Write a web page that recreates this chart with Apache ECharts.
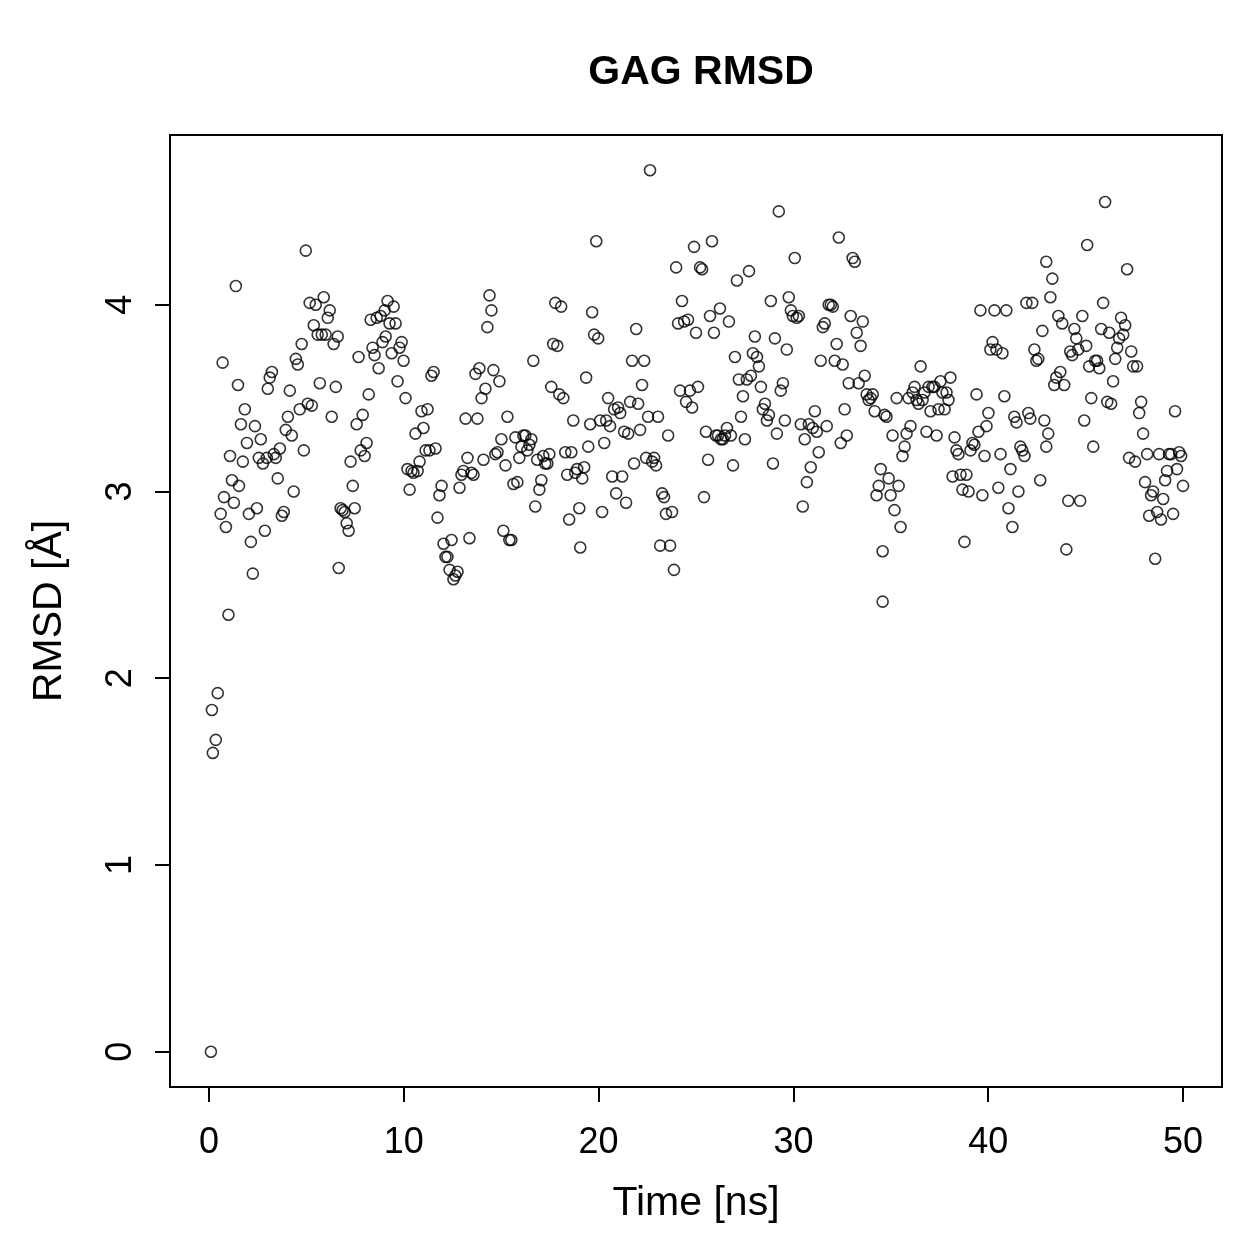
<!DOCTYPE html>
<html>
<head>
<meta charset="utf-8">
<title>GAG RMSD</title>
<script src="https://cdn.jsdelivr.net/npm/echarts@6/dist/echarts.min.js"></script>
<style>
  html, body { margin: 0; padding: 0; background: #fff; }
  #chart { width: 1259px; height: 1259px; }
</style>
</head>
<body>
<div id="chart"></div>
<script>
// time in ns
var time = [
  0.1, 0.2, 0.15, 0.35, 0.45, 1.0, 0.6, 0.7, 0.77, 0.87, 1.08, 1.18, 1.28, 1.38, 1.49, 1.54, 1.64, 1.74, 1.84, 1.95,
  2.05, 2.15, 2.25, 2.36, 2.46, 2.56, 2.66, 2.77, 2.87, 2.97, 3.02, 3.12, 3.23, 3.33, 3.43, 3.53, 3.64, 3.74, 3.84, 3.94,
  4.05, 4.15, 4.25, 4.35, 4.46, 4.56, 4.66, 4.76, 4.87, 4.97, 5.07, 5.17, 5.28, 5.38, 5.48, 5.58, 5.69, 5.79, 5.89, 5.99,
  6.10, 6.20, 6.30, 6.40, 6.51, 6.61, 6.66, 6.76, 6.86, 6.97, 7.07, 7.17, 7.27, 7.38, 7.48, 7.58, 7.68, 7.79, 7.89, 7.99,
  8.09, 8.20, 8.30, 8.40, 8.50, 8.61, 8.71, 8.81, 8.91, 9.02, 9.07, 9.17, 9.27, 9.38, 9.48, 9.58, 9.68, 9.78, 9.89, 9.99,
  10.09, 10.19, 10.30, 10.40, 10.50, 10.60, 10.71, 10.81, 10.91, 11.01, 11.12, 11.22, 11.32, 11.42, 11.53, 11.63, 11.73, 11.83, 11.94, 12.04,
  12.14, 12.24, 12.35, 12.45, 12.55, 12.65, 12.76, 12.86, 12.96, 13.06, 13.17, 13.27, 13.37, 13.47, 13.58, 13.68, 13.78, 13.88, 13.99, 14.09,
  14.19, 14.29, 14.40, 14.50, 14.60, 14.70, 14.81, 14.91, 15.01, 15.11, 15.22, 15.32, 15.42, 15.52, 15.63, 15.73, 15.83, 15.93, 16.04, 16.14,
  16.24, 16.34, 16.45, 16.55, 16.65, 16.75, 16.85, 16.96, 17.06, 17.16, 17.26, 17.37, 17.47, 17.57, 17.67, 17.78, 17.88, 17.98, 18.08, 18.19,
  18.29, 18.39, 18.49, 18.60, 18.70, 18.80, 18.90, 19.01, 19.06, 19.16, 19.26, 19.36, 19.47, 19.57, 19.67, 19.77, 19.88, 19.98, 20.08, 20.18,
  20.29, 20.39, 20.49, 20.59, 20.70, 20.80, 20.90, 21.00, 21.11, 21.21, 21.31, 21.41, 21.52, 21.62, 21.72, 21.82, 21.93, 22.03, 22.13, 22.23,
  22.34, 22.44, 22.54, 22.64, 22.75, 22.85, 22.95, 23.05, 23.16, 23.26, 23.36, 23.46, 23.57, 23.67, 23.77, 23.87, 23.98, 24.08, 24.18, 24.28,
  24.39, 24.49, 24.59, 24.69, 24.80, 24.90, 25.00, 25.10, 25.21, 25.31, 25.41, 25.51, 25.62, 25.72, 25.82, 25.92, 26.02, 26.13, 26.23, 26.28,
  26.38, 26.49, 26.59, 26.69, 26.79, 26.90, 27.00, 27.10, 27.20, 27.31, 27.41, 27.51, 27.61, 27.72, 27.82, 27.92, 28.02, 28.13, 28.23, 28.33,
  28.43, 28.54, 28.64, 28.74, 28.84, 28.95, 29.05, 29.15, 29.25, 29.35, 29.46, 29.56, 29.66, 29.76, 29.87, 29.97, 30.07, 30.17, 30.28, 30.38,
  30.48, 30.58, 30.69, 30.79, 30.89, 30.99, 31.10, 31.20, 31.30, 31.40, 31.51, 31.61, 31.71, 31.81, 31.92, 32.02, 32.12, 32.22, 32.33, 32.43,
  32.53, 32.63, 32.74, 32.84, 32.94, 33.04, 33.15, 33.25, 33.35, 33.45, 33.56, 33.66, 33.76, 33.86, 33.97, 34.07, 34.17, 34.27, 34.38, 34.48,
  34.58, 34.58, 34.68, 34.78, 34.89, 34.99, 35.09, 35.19, 35.30, 35.40, 35.50, 35.60, 35.71, 35.81, 35.91, 36.01, 36.12, 36.22, 36.32, 36.42,
  36.53, 36.63, 36.73, 36.83, 36.94, 37.04, 37.14, 37.24, 37.35, 37.45, 37.55, 37.65, 37.76, 37.86, 37.96, 38.06, 38.17, 38.27, 38.37, 38.47,
  38.58, 38.68, 38.78, 38.88, 38.99, 39.09, 39.19, 39.29, 39.40, 39.50, 39.60, 39.70, 39.81, 39.91, 40.01, 40.11, 40.22, 40.32, 40.42, 40.52,
  40.63, 40.73, 40.83, 40.93, 41.04, 41.14, 41.24, 41.34, 41.45, 41.55, 41.65, 41.75, 41.86, 41.96, 42.06, 42.16, 42.26, 42.37, 42.47, 42.57,
  42.67, 42.78, 42.88, 42.98, 42.98, 43.08, 43.19, 43.29, 43.39, 43.49, 43.60, 43.70, 43.80, 43.90, 44.01, 44.11, 44.21, 44.31, 44.42, 44.52,
  44.62, 44.72, 44.83, 44.93, 45.03, 45.08, 45.18, 45.29, 45.39, 45.49, 45.59, 45.70, 45.80, 45.90, 46.00, 46.11, 46.21, 46.31, 46.41, 46.52,
  46.62, 46.72, 46.82, 46.93, 47.03, 47.13, 47.23, 47.34, 47.44, 47.54, 47.64, 47.75, 47.85, 47.95, 48.05, 48.16, 48.26, 48.36, 48.46, 48.57,
  48.67, 48.77, 48.87, 48.98, 49.08, 49.18, 49.28, 49.39, 49.49, 49.59, 49.69, 49.80, 49.90, 50.00
];

// RMSD in angstrom
var rmsd = [
  0.00, 1.60, 1.83, 1.67, 1.92, 2.34, 2.88, 3.69, 2.97, 2.81, 3.19, 3.06, 2.94, 4.10, 3.57, 3.03, 3.36, 3.16, 3.44, 3.26,
  2.88, 2.73, 2.56, 3.35, 2.91, 3.18, 3.28, 3.15, 2.79, 3.18, 3.55, 3.61, 3.64, 3.20, 3.18, 3.07, 3.23, 2.87, 2.89, 3.33,
  3.40, 3.54, 3.30, 3.00, 3.71, 3.68, 3.44, 3.79, 3.22, 4.29, 3.47, 4.01, 3.46, 3.89, 4.00, 3.84, 3.58, 3.84, 4.04, 3.84,
  3.93, 3.97, 3.40, 3.79, 3.56, 3.83, 2.59, 2.91, 2.90, 2.89, 2.83, 2.79, 3.16, 3.03, 2.91, 3.36, 3.72, 3.22, 3.41, 3.19,
  3.26, 3.52, 3.92, 3.77, 3.73, 3.93, 3.66, 3.94, 3.80, 3.97, 3.83, 4.02, 3.90, 3.74, 3.99, 3.90, 3.59, 3.77, 3.80, 3.70,
  3.50, 3.12, 3.01, 3.11, 3.10, 3.31, 3.11, 3.16, 3.43, 3.34, 3.22, 3.44, 3.22, 3.62, 3.64, 3.23, 2.86, 2.98, 3.03, 2.72,
  2.65, 2.65, 2.58, 2.74, 2.53, 2.55, 2.57, 3.02, 3.09, 3.11, 3.39, 3.18, 2.75, 3.10, 3.09, 3.63, 3.39, 3.66, 3.50, 3.17,
  3.55, 3.88, 4.05, 3.97, 3.65, 3.20, 3.21, 3.59, 3.28, 2.79, 3.14, 3.40, 2.74, 2.74, 3.04, 3.29, 3.05, 3.18, 3.24, 3.30,
  3.30, 3.22, 3.25, 3.28, 3.70, 2.92, 3.17, 3.01, 3.06, 3.19, 3.15, 3.15, 3.20, 3.56, 3.79, 4.01, 3.78, 3.52, 3.99, 3.50,
  3.21, 3.09, 2.85, 3.21, 3.38, 3.10, 3.12, 2.91, 2.70, 3.07, 3.13, 3.61, 3.24, 3.36, 3.96, 3.84, 4.34, 3.82, 3.38, 2.89,
  3.26, 3.38, 3.50, 3.35, 3.08, 3.44, 2.99, 3.45, 3.42, 3.08, 3.32, 2.94, 3.31, 3.48, 3.70, 3.15, 3.87, 3.47, 3.33, 3.57,
  3.70, 3.18, 3.40, 4.72, 3.16, 3.18, 3.14, 3.40, 2.71, 2.99, 2.97, 2.88, 3.30, 2.71, 2.89, 2.58, 4.20, 3.90, 3.54, 4.02,
  3.91, 3.48, 3.92, 3.54, 3.45, 4.31, 3.85, 3.56, 4.20, 4.19, 2.97, 3.32, 3.17, 3.94, 4.34, 3.85, 3.30, 3.30, 3.98, 3.28,
  3.28, 3.30, 3.34, 3.91, 3.30, 3.14, 3.72, 4.13, 3.60, 3.40, 3.51, 3.28, 3.60, 4.18, 3.62, 3.74, 3.83, 3.72, 3.67, 3.56,
  3.44, 3.47, 3.38, 3.41, 4.02, 3.15, 3.82, 3.31, 4.50, 3.54, 3.58, 3.38, 3.76, 4.04, 3.97, 3.94, 4.25, 3.93, 3.94, 3.36,
  2.92, 3.28, 3.05, 3.36, 3.13, 3.34, 3.43, 3.32, 3.21, 3.70, 3.88, 3.90, 3.35, 4.00, 4.00, 3.99, 3.70, 3.79, 4.36, 3.26,
  3.68, 3.44, 3.30, 3.58, 3.94, 4.25, 4.23, 3.85, 3.58, 3.78, 3.91, 3.62, 3.52, 3.49, 3.50, 3.52, 3.43, 2.98, 3.03, 3.12,
  2.68, 2.41, 3.41, 3.40, 3.07, 2.98, 3.30, 2.90, 3.50, 3.03, 2.81, 3.19, 3.24, 3.31, 3.50, 3.35, 3.53, 3.56, 3.49, 3.47,
  3.67, 3.49, 3.53, 3.32, 3.56, 3.43, 3.56, 3.56, 3.30, 3.44, 3.59, 3.53, 3.44, 3.53, 3.49, 3.61, 3.08, 3.29, 3.22, 3.20,
  3.09, 3.01, 2.73, 3.09, 3.00, 3.22, 3.26, 3.25, 3.52, 3.32, 3.97, 2.98, 3.19, 3.35, 3.42, 3.76, 3.80, 3.97, 3.76, 3.02,
  3.20, 3.74, 3.51, 3.97, 2.91, 3.12, 2.81, 3.40, 3.37, 3.00, 3.24, 3.22, 3.19, 4.01, 3.42, 3.39, 4.01, 3.76, 3.70, 3.71,
  3.06, 3.86, 3.38, 3.24, 4.23, 3.31, 4.04, 4.14, 3.57, 3.61, 3.94, 3.64, 3.90, 3.57, 2.69, 2.95, 3.75, 3.73, 3.87, 3.82,
  3.76, 2.95, 3.94, 3.38, 3.78, 4.32, 3.67, 3.50, 3.24, 3.70, 3.70, 3.66, 3.87, 4.01, 4.55, 3.48, 3.85, 3.47, 3.59, 3.71,
  3.77, 3.82, 3.93, 3.84, 3.89, 4.19, 3.18, 3.75, 3.67, 3.16, 3.67, 3.42, 3.48, 3.31, 3.05, 3.20, 2.87, 2.98, 3.00, 2.64,
  2.89, 3.20, 2.85, 2.96, 3.06, 3.11, 3.20, 3.20, 2.88, 3.43, 3.12, 3.21, 3.19, 3.03
];

var xTicks = [0, 10, 20, 30, 40, 50];
var yTicks = [0, 1, 2, 3, 4];

var points = [];
for (var i = 0; i < time.length; i++) {
  points.push([time[i], rmsd[i]]);
}

var myChart = echarts.init(document.getElementById('chart'));

var fontFamily = '"Liberation Sans", Arial, Helvetica, sans-serif';

var option = {
  backgroundColor: '#fff',
  animation: false,
  title: {
    text: 'GAG RMSD',
    left: 696,
    textAlign: 'center',
    top: 47,
    textStyle: { fontFamily: fontFamily, fontWeight: 'bold', fontSize: 41, color: '#000' }
  },
  grid: {
    left: 170, top: 135, right: 37, bottom: 172,
    show: true, borderColor: '#000', borderWidth: 2, backgroundColor: 'transparent'
  },
  xAxis: {
    type: 'value',
    min: -2, max: 52,
    name: 'Time [ns]',
    nameLocation: 'middle',
    nameGap: 96,
    nameTextStyle: { fontFamily: fontFamily, fontSize: 41, color: '#000' },
    axisLine: { show: false, onZero: false },
    axisTick: { show: true, inside: false, length: 15, customValues: xTicks, lineStyle: { color: '#000', width: 2 } },
    axisLabel: { customValues: xTicks, margin: 38, fontFamily: fontFamily, fontSize: 36, color: '#000' },
    splitLine: { show: false }
  },
  yAxis: {
    type: 'value',
    min: -0.189, max: 4.909,
    name: 'RMSD [Å]',
    nameLocation: 'middle',
    nameGap: 100,
    nameRotate: 90,
    nameTextStyle: { fontFamily: fontFamily, fontSize: 41, color: '#000' },
    axisLine: { show: false, onZero: false },
    axisTick: { show: true, inside: false, length: 15, customValues: yTicks, lineStyle: { color: '#000', width: 2 } },
    axisLabel: { customValues: yTicks, rotate: 90, margin: 31, fontFamily: fontFamily, fontSize: 36, color: '#000' },
    splitLine: { show: false }
  },
  series: [{
    type: 'scatter',
    data: points,
    symbol: 'circle',
    symbolSize: 11,
    itemStyle: { color: 'rgba(0,0,0,0)', borderColor: '#000', borderWidth: 1.6 }
  }]
};

myChart.setOption(option);
</script>
</body>
</html>
